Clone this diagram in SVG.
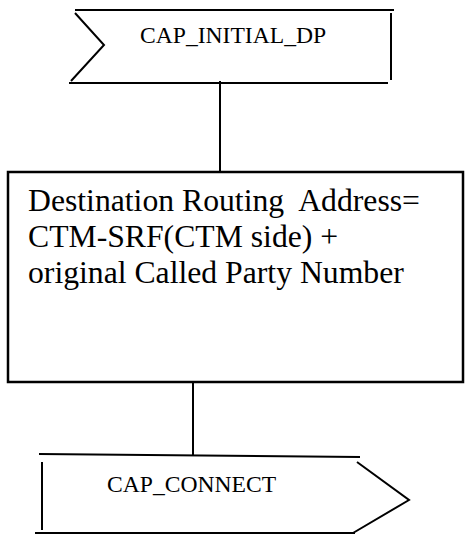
<svg xmlns="http://www.w3.org/2000/svg" width="467" height="535" viewBox="0 0 467 535">
<style>
.ln{fill:none;stroke:#000;stroke-width:2;stroke-linecap:butt}
.bx{fill:none;stroke:#000;stroke-width:2.5}
.t{font-family:"Liberation Serif","Times New Roman",serif;fill:#000}
.s{font-size:23.6px}
.b{font-size:31.7px;white-space:pre}
</style>
<rect width="467" height="535" fill="#fff"/>
<g id="connectors">
<line class="ln" x1="220" y1="81" x2="220" y2="172"/>
<line class="ln" x1="193" y1="382" x2="193" y2="455"/>
</g>
<g id="cap_initial_dp">
<line class="ln" x1="75" y1="10" x2="394" y2="10"/>
<line class="ln" x1="391" y1="13" x2="391" y2="80"/>
<line class="ln" x1="69" y1="83" x2="388" y2="83"/>
<polyline class="ln" points="75,13 104,45 71,81"/>
<text class="t s" x="140" y="43">CAP_INITIAL_DP</text>
</g>
<g id="routing_box">
<rect class="bx" x="8" y="172" width="455" height="210"/>
<text class="t b" x="28" y="211" xml:space="preserve">Destination Routing  Address=</text>
<text class="t b" x="28" y="247">CTM-SRF(CTM side) +</text>
<text class="t b" x="28" y="283">original Called Party Number</text>
</g>
<g id="cap_connect">
<line class="ln" x1="39" y1="454" x2="360" y2="457"/>
<line class="ln" x1="42" y1="462" x2="42" y2="530"/>
<line class="ln" x1="35" y1="533" x2="355" y2="533"/>
<polyline class="ln" points="357,462 409,500 353,533"/>
<text class="t s" x="107" y="492">CAP_CONNECT</text>
</g>
</svg>
